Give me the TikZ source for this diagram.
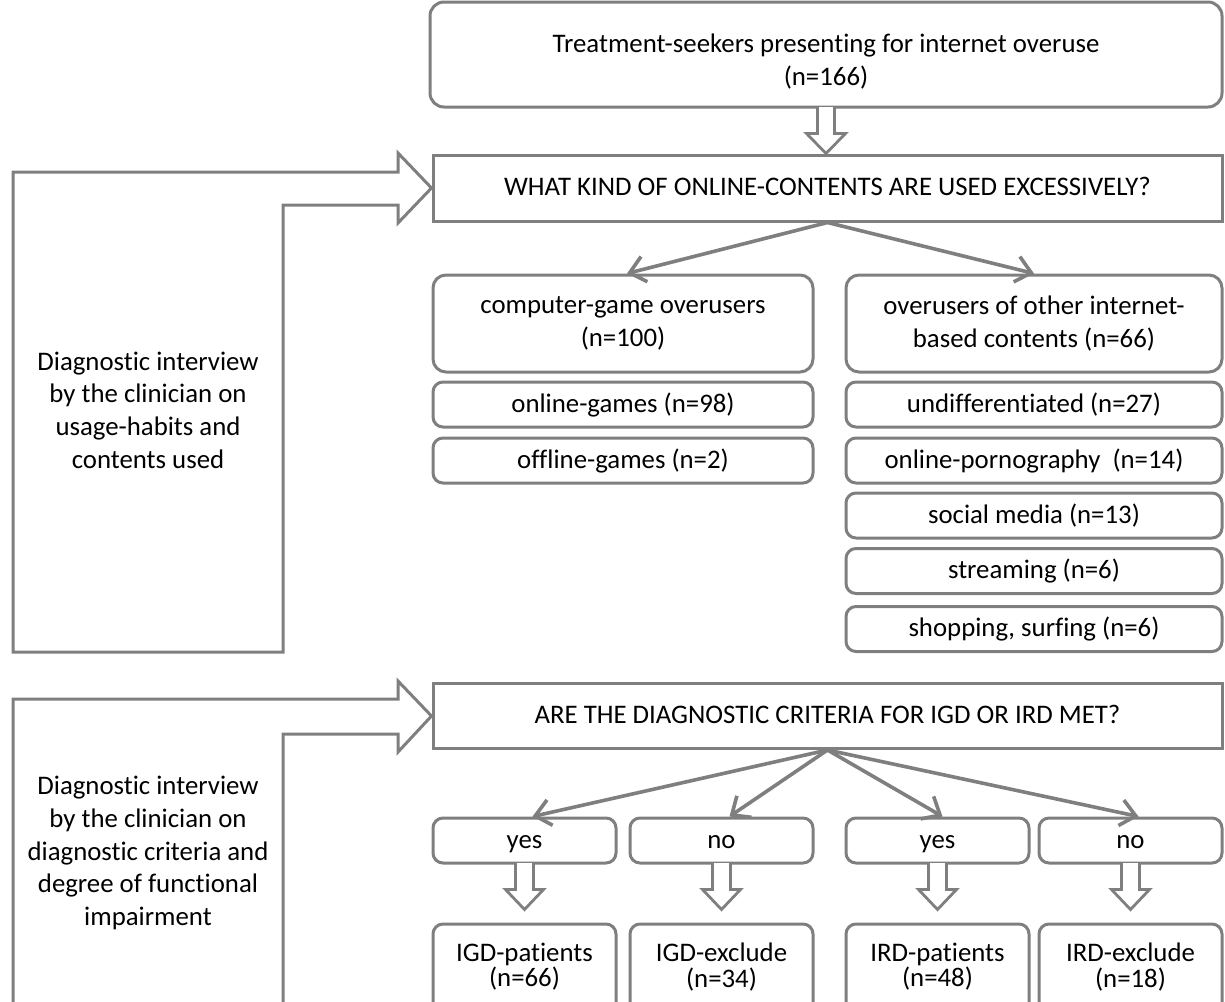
\documentclass[tikz,border=0pt]{standalone}
\usepackage{fontspec}
\setmainfont{Carlito}[Ligatures=NoCommon]
\usetikzlibrary{arrows.meta,calc}
\definecolor{lg}{RGB}{127,127,127}
\newcommand\hollowdn[4]{%
  \coordinate (hdtip) at (#1|-#2);
  \draw[harrow] ($(#1)+(-#3,-1.5)$) -- ($(hdtip)+(-#3,-20)$) -- ($(hdtip)+(-#4,-20)$) -- (hdtip) -- ($(hdtip)+(#4,-20)$) -- ($(hdtip)+(#3,-20)$) -- ($(#1)+(#3,-1.5)$);}
\begin{document}
\begin{tikzpicture}[x=0.5pt,y=-0.5pt,
  txt/.style={font=\fontsize{13.4}{16.3}\selectfont, align=center, inner sep=0pt, text=black},
  one/.style={text height=9.6pt, text depth=2.1pt},
  box/.style={txt, draw=lg, line width=1.5pt, rounded corners=5pt},
  bigbox/.style={box, rounded corners=6.5pt},
  sqbox/.style={txt, one, draw=lg, line width=1.5pt},
  small/.style={box, one, minimum height=22.5pt},
  lcol/.style={minimum width=190pt},
  rcol/.style={minimum width=188pt},
  yn/.style={box, one, minimum width=91.5pt, minimum height=22.5pt},
  res/.style={box, minimum width=91.5pt, minimum height=48pt},
  restxt/.style={txt, font=\fontsize{13.4}{12.6}\selectfont},
  conn/.style={draw=lg, line width=1.8pt, -{Straight Barb[length=7.5pt,width=13pt]}},
  frame/.style={draw=lg, line width=1.5pt, line join=miter},
  harrow/.style={draw=lg, line width=1.4pt, fill=white, line join=miter}]
\useasboundingbox (0,0) rectangle (1225,1001);
\clip (0,0) rectangle (1225,1001);

% top section
\node[bigbox, rounded corners=7pt, minimum width=396pt, minimum height=52.5pt] (top) at (826,54.5) {};
\node[txt] (topt) at (826,61.5) {Treatment-seekers presenting for internet overuse\\(n=166)};
\node[sqbox, minimum width=394.5pt, minimum height=33pt] (q1) at (827.5,188)
  {WHAT KIND OF ONLINE-CONTENTS ARE USED EXCESSIVELY?};
\node[bigbox, lcol, minimum height=48.5pt] (cg) at (623,323.5) {computer-game overusers\\(n=100)};
\node[bigbox, rcol, minimum height=48.5pt] (oth) at (1034,323.5) {overusers of other internet-\\based contents (n=66)};

\node[small, lcol] (og) at (623,404.5) {online-games (n=98)};
\node[small, lcol] (offg) at (623,460.5) {offline-games (n=2)};

\node[small, rcol] (und) at (1034,404.5) {undifferentiated (n=27)};
\node[small, rcol] (porn) at (1034,460.5) {online-pornography\ \ (n=14)};
\node[small, rcol] (soc) at (1034,515.5) {social media (n=13)};
\node[small, rcol] (str) at (1034,571) {streaming (n=6)};
\node[small, rcol] (shop) at (1034,629) {shopping, surfing (n=6)};

\node[txt] (lt1) at (148,410) {Diagnostic interview\\by the clinician on\\usage-habits and\\contents used};

% bottom section
\node[sqbox, minimum width=394.5pt, minimum height=32.5pt] (q2) at (827.5,716)
  {ARE THE DIAGNOSTIC CRITERIA FOR IGD OR IRD MET?};

\node[yn] (yes1) at (524.5,840.5) {yes};
\node[yn] (no1) at (721.5,840.5) {no};
\node[yn] (yes2) at (937.5,840.5) {yes};
\node[yn] (no2) at (1130.5,840.5) {no};

\node[res] (igdp) at (524.5,972) {};
\node[res] (igde) at (721.5,972) {};
\node[res] (irdp) at (937.5,972) {};
\node[res] (irde) at (1130.5,972) {};
\node[restxt] (igdpt) at (524.5,967) {IGD-patients\\(n=66)};
\node[restxt] (igdet) at (721.5,967) {IGD-exclude\\(n=34)};
\node[restxt] (irdpt) at (937.5,967) {IRD-patients\\(n=48)};
\node[restxt] (irdet) at (1130.5,967) {IRD-exclude\\(n=18)};

\node[txt] (lt2) at (148,853) {Diagnostic interview\\by the clinician on\\diagnostic criteria and\\degree of functional\\impairment};

% connectors
\draw[conn] (q1.south) -- ([xshift=2pt]cg.north);
\draw[conn] (q1.south) -- (oth.north);
\draw[conn] (q2.south) -- ([xshift=4pt]yes1.north);
\draw[conn] (q2.south) -- ([xshift=4pt]no1.north);
\draw[conn] (q2.south) -- ([xshift=2.5pt]yes2.north);
\draw[conn] (q2.south) -- ([xshift=4pt]no2.north);

% hollow block arrows
\hollowdn{top.south}{q1.north}{8.5}{19.5}
\coordinate (t1) at ($(yes1.south)+(0,45)$);
\coordinate (t2) at ($(no1.south)+(0,45)$);
\coordinate (t3) at ($(yes2.south)+(0,45)$);
\coordinate (t4) at ($(no2.south)+(0,45)$);
\hollowdn{yes1.south}{t1}{9}{19}
\hollowdn{no1.south}{t2}{9}{19}
\hollowdn{yes2.south}{t3}{9}{19}
\hollowdn{no2.south}{t4}{9}{19}

% bent frame arrows
\draw[frame] (13,652) -- (13,172) -- (398,172) -- (398,153) -- (q1.west) -- (398,223) -- (398,205) -- (283,205) -- (283,652) -- cycle;
\draw[frame] (13,1010) -- (13,699) -- (398,699) -- (398,681) -- (q2.west) -- (398,752) -- (398,734) -- (283,734) -- (283,1010);
\end{tikzpicture}
\end{document}
